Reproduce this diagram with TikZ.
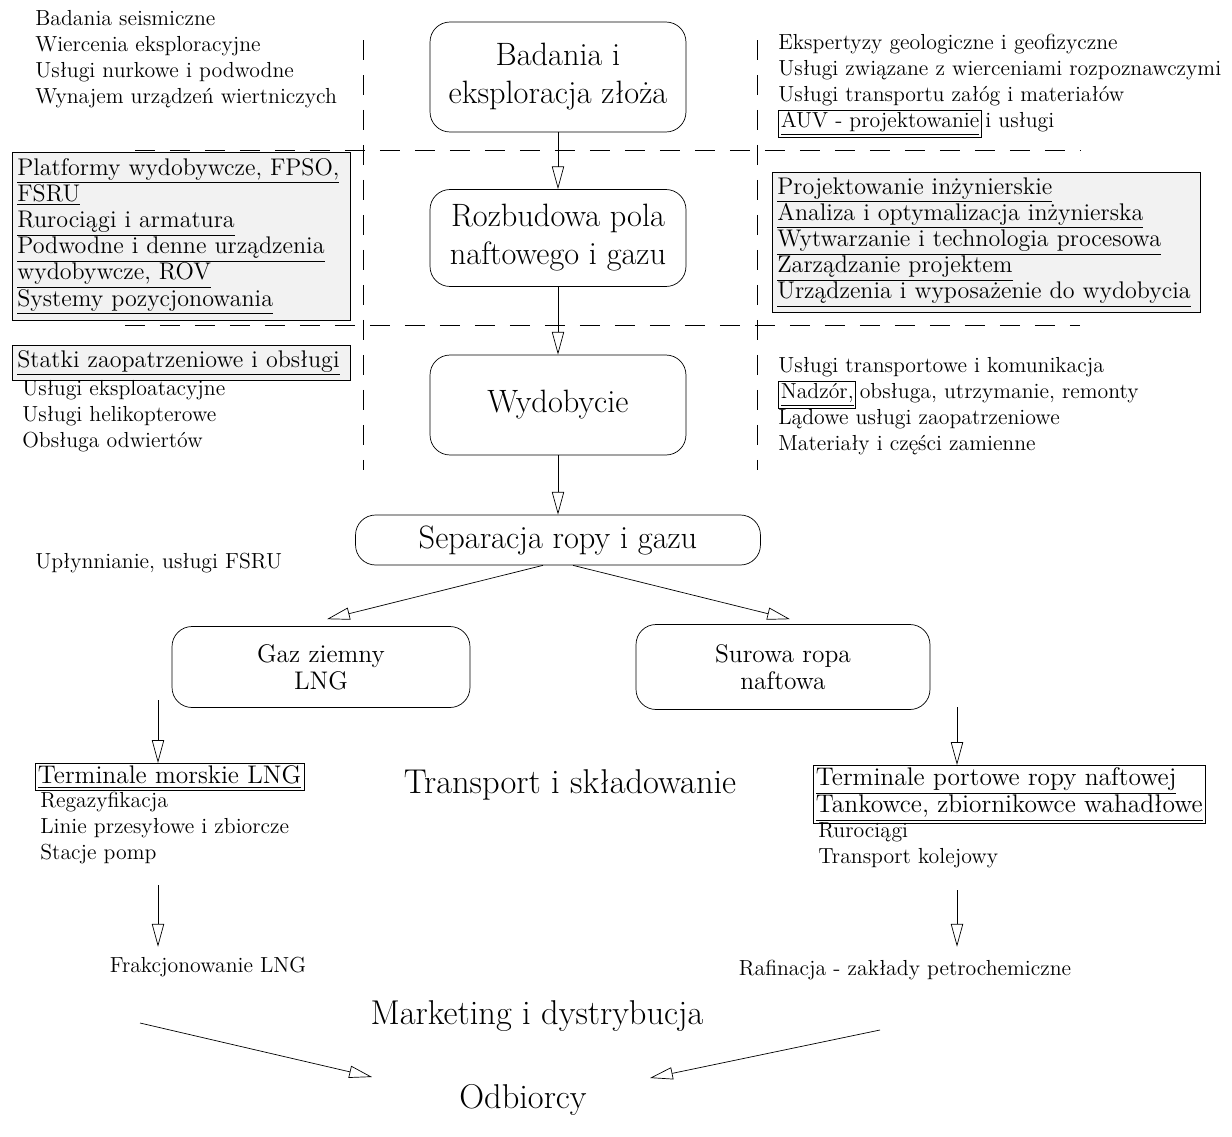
\documentclass[tikz,border=0pt]{standalone}
\usepackage{fontspec}
\usepackage{tikz}
\usetikzlibrary{positioning,calc,arrows.meta}
\setlength{\fboxsep}{1pt}

\begin{document}
\begin{tikzpicture}[x=0.02cm,y=-0.02cm,
  box/.style={draw,rounded corners=0.4cm,align=center,inner sep=0pt},
  big/.style={font=\fontsize{18.4}{21.6}\selectfont},
  head/.style={font=\fontsize{19.6}{22}\selectfont},
  mid/.style={font=\fontsize{14.5}{15.5}\selectfont},
  txt/.style={font=\fontsize{12.4}{14.8}\selectfont,align=left,inner sep=0pt},
  grp/.style={draw,fill=gray!10,align=left,inner sep=0.1cm,anchor=north west,font=\fontsize{13.7}{14.9}\selectfont},
  term/.style={draw,align=left,inner sep=1.5pt,anchor=north west,font=\fontsize{14.5}{15.2}\selectfont},
  arr/.style={-{Triangle[open,length=13pt,width=7pt]}},
  sect/.style={dash pattern=on 0.4cm off 0.3cm}]
\useasboundingbox (0,0) rectangle (1232,1137);

\draw[sect] (135,150) -- (1080,150);
\draw[sect] (125,325) -- (1080,325);
\draw[sect] (363,40) -- (363,470);
\draw[sect] (757,40) -- (757,470);

\node[box,big,minimum width=5.12cm,minimum height=2.2cm] (bad) at (558,77) {Badania i\\eksploracja złoża};
\node[box,big,minimum width=5.12cm,minimum height=1.94cm] (roz) at (558,238) {Rozbudowa pola\\naftowego i gazu};
\node[box,big,minimum width=5.12cm,minimum height=2cm] (wyd) at (558,405) {Wydobycie};
\node[box,big,minimum width=8.1cm,minimum height=1cm] (sep) at (558,540) {Separacja ropy i gazu};
\node[box,mid,minimum width=5.96cm,minimum height=1.62cm] (gaz) at (321,667) {Gaz ziemny\\LNG};
\node[box,mid,minimum width=5.88cm,minimum height=1.7cm] (sur) at (783,667) {Surowa ropa\\naftowa};

\node[txt,anchor=north west] (expl) at (35,10) {Badania seismiczne\\Wiercenia eksploracyjne\\Usługi nurkowe i podwodne\\Wynajem urządzeń wiertniczych};
\node[txt,anchor=north west] (eksp) at (778,34) {Ekspertyzy geologiczne i geofizyczne\\Usługi związane z wierceniami rozpoznawczymi\\Usługi transportu załóg i materiałów\\\fbox{\underline{AUV - projektowanie}}\,i usługi};
\node[grp,text width=6.56cm,minimum height=3.36cm] (plat) at (12,152) {\underline{Platformy wydobywcze, FPSO,}\\\underline{FSRU}\\\underline{Rurociągi i armatura}\\\underline{Podwodne i denne urządzenia}\\\underline{wydobywcze, ROV}\\\underline{Systemy pozycjonowania}};
\node[grp,text width=8.36cm,minimum height=2.8cm] (proj) at (772,172) {\underline{Projektowanie inżynierskie}\\\underline{Analiza i optymalizacja inżynierska}\\\underline{Wytwarzanie i technologia procesowa}\\\underline{Zarządzanie projektem}\\\underline{Urządzenia i wyposażenie do wydobycia}};
\node[grp,text width=6.56cm,minimum height=0.66cm] (stat) at (12,345) {\underline{Statki zaopatrzeniowe i obsługi}};
\node[txt,anchor=north west] (eksl) at (22,380) {Usługi eksploatacyjne\\Usługi helikopterowe\\Obsługa odwiertów};
\node[txt,anchor=north west] (tran) at (778,357) {Usługi transportowe i komunikacja\\\fbox{\underline{Nadzór,}}\,obsługa, utrzymanie, remonty\\Lądowe usługi zaopatrzeniowe\\Materiały i części zamienne};

\node[txt,anchor=west] (upl) at (35,563) {Upłynnianie, usługi FSRU};
\node[term] (tlng) at (35,763) {\underline{Terminale morskie LNG}};
\node[txt,anchor=north west] (rega) at (40,792) {Regazyfikacja\\Linie przesyłowe i zbiorcze\\Stacje pomp};
\node[term] (tpor) at (813,765) {\underline{Terminale portowe ropy naftowej}\\\underline{Tankowce, zbiornikowce wahadłowe}};
\node[txt,anchor=north west] (ruro) at (818,822) {Rurociągi\\Transport kolejowy};
\node[head] (tisk) at (570,785) {Transport i składowanie};
\node[txt] (frak) at (208,967) {Frakcjonowanie LNG};
\node[txt] (raf) at (905,970) {Rafinacja - zakłady petrochemiczne};
\node[head] (mark) at (537,1016) {Marketing i dystrybucja};
\node[head] (odb) at (523,1100) {Odbiorcy};

\coordinate (g1) at (158,700);
\coordinate (g2) at (158,885);
\coordinate (r1) at (957,707);
\coordinate (r2) at (957,890);
\coordinate (m1) at (140,1023);
\coordinate (m2) at (880,1030);
\coordinate (o1) at (372,1077);
\coordinate (o2) at (650,1078);

\draw[arr] (bad) -- (roz);
\draw[arr] (roz) -- (wyd);
\draw[arr] (wyd) -- (sep);
\draw[arr] ([xshift=-0.3cm]sep.south) -- ($(gaz.north)+(6,-7)$);
\draw[arr] ([xshift=0.3cm]sep.south) -- ($(sur.north)+(7,-5)$);
\draw[arr] (g1) -- (g1 |- tlng.north);
\draw[arr] (r1) -- (r1 |- tpor.north);
\draw[arr] (g2) -- ($(g2 |- frak.north)+(0,-10)$);
\draw[arr] (r2) -- ($(r2 |- raf.north)+(0,-13)$);
\draw[arr] (m1) -- (o1);
\draw[arr] (m2) -- (o2);
\end{tikzpicture}
\end{document}
